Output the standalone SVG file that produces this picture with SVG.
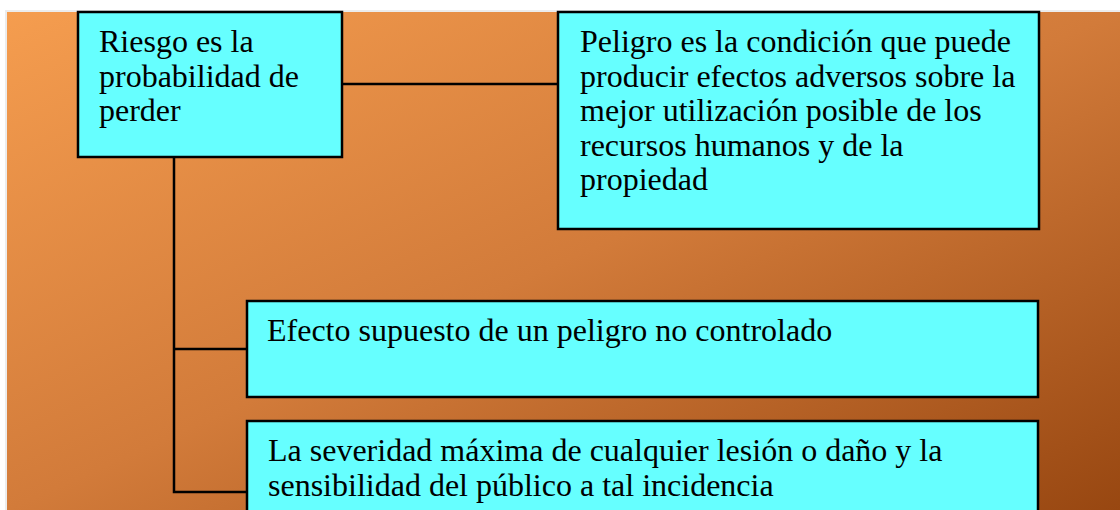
<svg xmlns="http://www.w3.org/2000/svg" width="1120" height="510" viewBox="0 0 1120 510">
<defs>
<linearGradient id="bg" x1="0" y1="0" x2="1" y2="1">
<stop offset="0" stop-color="#F59D4F"/>
<stop offset="0.5" stop-color="#D27B3A"/>
<stop offset="1" stop-color="#984711"/>
</linearGradient>
<style>
.box{fill:#66FFFF;stroke:#000;stroke-width:2.5}
.t{font-family:"Liberation Serif","Times New Roman",serif;font-size:32px;fill:#000}
.c{fill:none;stroke:#000;stroke-width:2.5}
</style>
</defs>
<rect x="0" y="0" width="1120" height="510" fill="#fff"/>
<rect x="5" y="10" width="1115" height="500" fill="#ececec"/>
<rect x="7" y="12" width="1113" height="498" fill="url(#bg)"/>
<g id="connectors">
<line class="c" x1="342" y1="84" x2="558" y2="84"/>
<polyline class="c" points="174,157 174,492 247,492"/>
<line class="c" x1="174" y1="349" x2="247" y2="349"/>
</g>
<g id="riesgo">
<rect class="box" x="78" y="12" width="264" height="145"/>
<text class="t" x="99" y="52">Riesgo es la</text>
<text class="t" x="99" y="86.5">probabilidad de</text>
<text class="t" x="99" y="121">perder</text>
</g>
<g id="peligro">
<rect class="box" x="558" y="12" width="481" height="217"/>
<text class="t" x="580" y="52">Peligro es la condición que puede</text>
<text class="t" x="580" y="86.5">producir efectos adversos sobre la</text>
<text class="t" x="580" y="121">mejor utilización posible de los</text>
<text class="t" x="580" y="155.5">recursos humanos y de la</text>
<text class="t" x="580" y="190">propiedad</text>
</g>
<g id="efecto">
<rect class="box" x="247" y="301" width="791" height="96"/>
<text class="t" x="267" y="341">Efecto supuesto de un peligro no controlado</text>
</g>
<g id="severidad">
<rect class="box" x="247" y="421" width="791" height="100"/>
<text class="t" x="268" y="461">La severidad máxima de cualquier lesión o daño y la</text>
<text class="t" x="268" y="496">sensibilidad del público a tal incidencia</text>
</g>
</svg>
